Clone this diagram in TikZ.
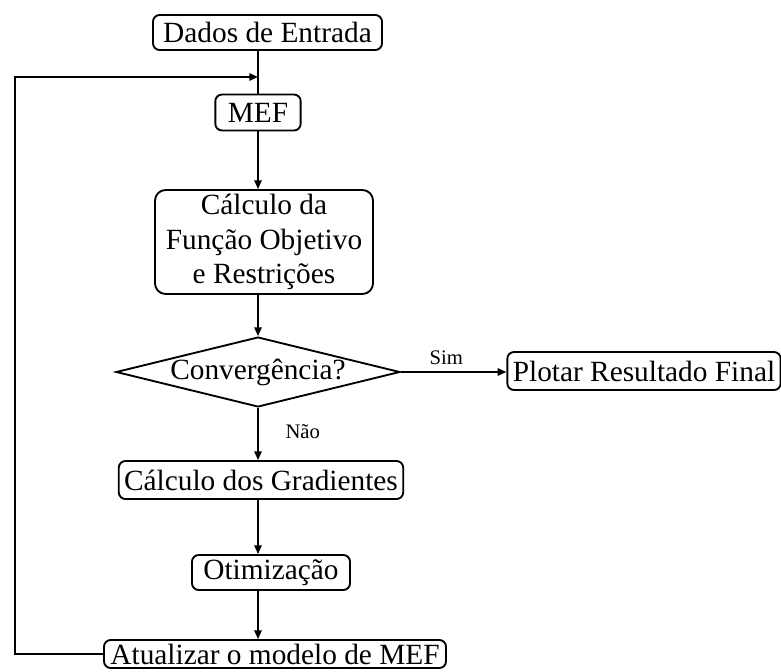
\documentclass[tikz,border=0pt]{standalone}
\usepackage{fontspec}
\setmainfont{Liberation Serif}
\usetikzlibrary{arrows.meta,shapes.geometric}

\tikzset{
  blk/.style={draw,rounded corners=5pt,line width=1.4pt,inner xsep=4pt,inner ysep=0pt,
    font=\fontsize{22}{26}\selectfont,align=center},
  lbl/.style={font=\fontsize{15.5}{18}\selectfont,inner sep=0pt},
  flow/.style={-{Triangle[length=6.5pt,width=5.5pt]},line width=1.3pt},
}

\begin{document}
\begin{tikzpicture}[x=0.75pt,y=-0.75pt]
  \useasboundingbox (0,0) rectangle (781,671);
  % boxes
  \node[blk,minimum width=171.75pt,minimum height=26.25pt] (dados) at (267.5,32.5) {Dados de Entrada};
  \node[blk,minimum width=64pt,minimum height=27pt] (mef) at (258,112.5) {MEF};
  \node[blk,rounded corners=8pt,minimum width=163.5pt,minimum height=78pt] (calc) at (264,242) {C\'alculo da\\Fun\c{c}\~ao Objetivo\\e Restri\c{c}\~oes};
  \node[diamond,draw,line width=1.4pt,aspect=4.06,inner sep=0pt,font=\fontsize{22}{26}\selectfont,
    minimum width=210pt,minimum height=51.75pt] (conv) at (258,372) {Converg\^encia?};
  \node[blk,minimum width=205pt,minimum height=28.5pt] (plotar) at (644,371) {Plotar Resultado Final};
  \node[blk,minimum width=208.5pt,minimum height=28.5pt] (grad) at (261,480) {C\'alculo dos Gradientes};
  \node[blk,minimum width=118.5pt,minimum height=26.25pt] (otim) at (271,572.5) {Otimiza\c{c}\~ao};
  \node[blk,minimum width=256.5pt,minimum height=21pt] (atual) at (275,654) {Atualizar o modelo de MEF};
  \coordinate (back) at (15,77);
  % connectors
  \draw[line width=1.3pt] (dados.south -| mef.north) -- (mef.north);
  \draw[flow] (mef.south) -- (mef.south |- calc.north);
  \draw[flow] (calc.south -| conv.north) -- (conv.north);
  \draw[flow] (conv.east) -- (conv.east -| plotar.west)
    node[lbl,pos=0.43,above=5pt] (sim) {Sim};
  \draw[flow] (conv.south) -- (conv.south |- grad.north)
    node[lbl,pos=0.45,right,xshift=20pt] (nao) {N\~ao};
  \draw[flow] (grad.south -| mef.north) -- (mef.north |- otim.north);
  \draw[flow] (otim.south -| mef.north) -- (mef.north |- atual.north);
  \draw[flow] (atual.west) -| (back) -- (back -| mef.north);
\end{tikzpicture}
\end{document}
